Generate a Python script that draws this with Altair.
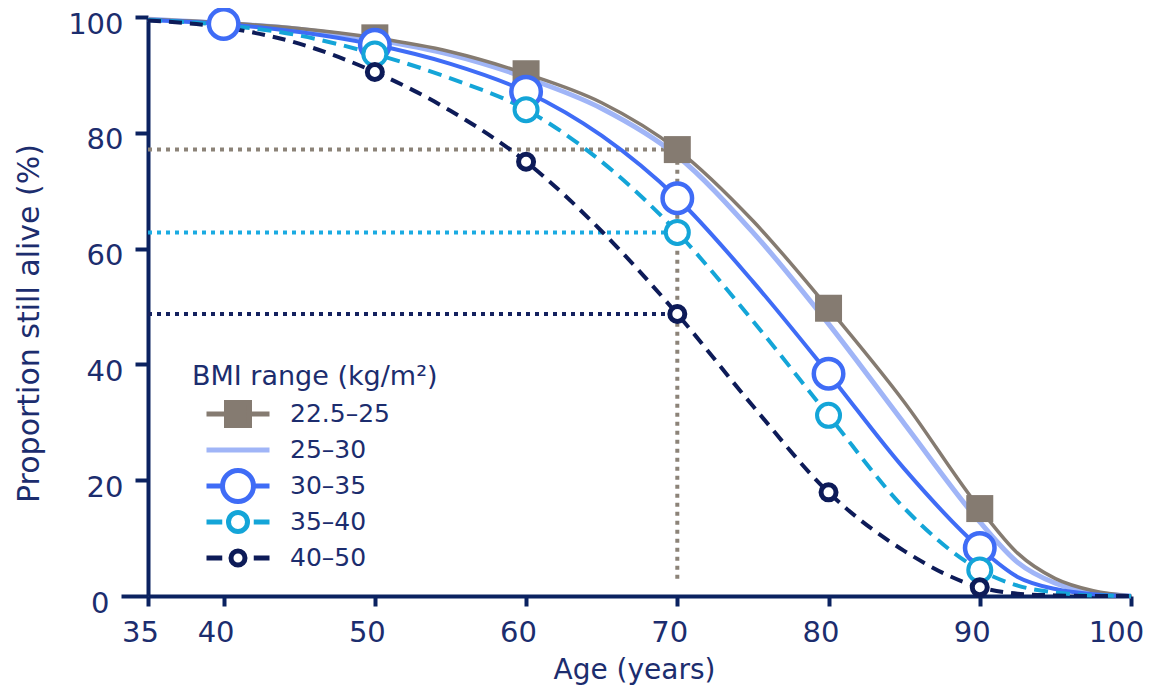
import altair as alt
import pandas as pd

# ---------------- data ----------------
AGES = [35, 40, 45, 50, 55, 60, 65, 70, 75, 80, 85, 90, 92.5, 95, 97.5, 100]
BMI_GROUPS = ["22.5–25", "25–30", "30–35", "35–40", "40–50"]

ALIVE_22_25 = [99.6, 99.0, 98.0, 96.4, 94.0, 90.2, 85.2, 77.1, 64.8, 49.7, 33.5, 15.1, 7.4, 3.0, 0.9, 0.0]
ALIVE_25_30 = [99.6, 98.9, 97.9, 96.1, 93.5, 89.5, 84.2, 76.0, 62.8, 47.0, 29.8, 12.8, 5.8, 2.2, 0.6, 0.0]
ALIVE_30_35 = [99.5, 98.8, 97.4, 95.2, 91.9, 87.1, 79.5, 68.7, 54.3, 38.4, 22.0, 8.3, 3.3, 1.2, 0.3, 0.0]
ALIVE_35_40 = [99.5, 98.6, 96.8, 93.6, 89.4, 84.0, 75.0, 62.8, 47.5, 31.2, 15.2, 4.5, 1.8, 0.6, 0.1, 0.0]
ALIVE_40_50 = [99.4, 98.2, 95.4, 90.5, 83.8, 75.0, 63.0, 48.7, 32.8, 17.9, 7.8, 1.5, 0.4, 0.1, 0.0, 0.0]

MARKER_AGES = [50, 60, 70, 80, 90]
MARKER_AGES_30_35 = [40, 50, 60, 70, 80, 90]

X_TICKS = [35, 40, 50, 60, 70, 80, 90, 100]
Y_TICKS = [0, 20, 40, 60, 80, 100]

REF_AGE = 70
REF_GROUPS = ["22.5–25", "35–40", "40–50"]
VLINE_BOTTOM = 3

SERIES = {
    "22.5–25": ALIVE_22_25,
    "25–30": ALIVE_25_30,
    "30–35": ALIVE_30_35,
    "35–40": ALIVE_35_40,
    "40–50": ALIVE_40_50,
}
MARKERS = {
    "22.5–25": MARKER_AGES,
    "25–30": [],
    "30–35": MARKER_AGES_30_35,
    "35–40": MARKER_AGES,
    "40–50": MARKER_AGES,
}

rows = []
for g in BMI_GROUPS:
    for a, v in zip(AGES, SERIES[g]):
        rows.append({"age": a, "alive": v, "bmi": g, "marker": a in MARKERS[g]})
df = pd.DataFrame(rows)

ref_rows = []
for g in REF_GROUPS:
    ref_rows.append({"bmi": g, "x0": AGES[0], "x1": REF_AGE,
                     "y": SERIES[g][AGES.index(REF_AGE)]})
ref_df = pd.DataFrame(ref_rows)
vref_df = pd.DataFrame([{"x": REF_AGE, "y0": VLINE_BOTTOM,
                         "y1": SERIES["22.5–25"][AGES.index(REF_AGE)]}])

# ---------------- styles ----------------
GRAY = "#857b71"
LIGHT = "#a0b5f7"
BLUE = "#3f6cf6"
CYAN = "#14a5d8"
NAVY = "#0d1b58"
AXIS = "#0b2260"
TEXT = "#1c2d6e"
FONT = "DejaVu Sans"
COLORS = [GRAY, LIGHT, BLUE, CYAN, NAVY]
REF_COLORS = {"22.5–25": "#8c8378", "35–40": "#1aabe2", "40–50": "#14215e"}

XSCALE = alt.Scale(domain=[35, 100], nice=False, zero=False)
YSCALE = alt.Scale(domain=[0, 100], nice=False)

X = alt.X("age:Q", title="Age (years)", scale=XSCALE,
          axis=alt.Axis(values=X_TICKS, grid=False, labelFlush=False,
                        domainColor=AXIS, domainWidth=4, tickColor=AXIS,
                        tickWidth=4, tickSize=10, labelPadding=12,
                        labelOffset={"condition": {"test": "datum.value == 100", "value": -15},
                                     "value": -8},
                        titleX=486, titleY=60,
                        labelFontSize=29, titleFontSize=28,
                        labelColor=TEXT, titleColor=TEXT, labelFont=FONT,
                        titleFont=FONT, titleFontWeight="normal"))
Y = alt.Y("alive:Q", title="Proportion still alive (%)", scale=YSCALE,
          axis=alt.Axis(values=Y_TICKS, grid=False, domainColor=AXIS,
                        domainWidth=4, tickColor=AXIS, tickWidth=4,
                        tickSize={"condition": {"test": "datum.value == 0", "value": 27},
                                  "value": 13},
                        labelPadding=12, labelOffset=7,
                        titleX=-104, titleY=306,
                        labelFontSize=29, titleFontSize=30, labelColor=TEXT,
                        titleColor=TEXT, labelFont=FONT, titleFont=FONT,
                        titleFontWeight="normal"))

base = alt.Chart(df)


def href(g):
    return alt.Chart(ref_df).transform_filter(alt.datum.bmi == g).mark_rule(
        strokeWidth=4, strokeDash=[4, 5], color=REF_COLORS[g]
    ).encode(x=alt.X("x0:Q", scale=XSCALE), x2="x1:Q", y=alt.Y("y:Q", scale=YSCALE))


vref = alt.Chart(vref_df).mark_rule(strokeWidth=4, strokeDash=[4, 5],
                                    color=REF_COLORS["22.5–25"]).encode(
    x=alt.X("x:Q", scale=XSCALE), y=alt.Y("y0:Q", scale=YSCALE), y2="y1:Q")


def line(g, color, width, dash=None):
    kw = dict(color=color, strokeWidth=width, interpolate="monotone")
    if dash:
        kw["strokeDash"] = dash
    return base.transform_filter(alt.datum.bmi == g).mark_line(**kw).encode(x=X, y=Y)


lines = [
    line("25–30", LIGHT, 5),
    line("22.5–25", GRAY, 3.5),
    line("30–35", BLUE, 4),
    line("35–40", CYAN, 4, [14, 8]),
    line("40–50", NAVY, 4, [13, 8]),
]


def marks(g, **kw):
    return base.transform_filter(
        (alt.datum.bmi == g) & (alt.datum.marker == True)
    ).mark_point(opacity=1, **kw).encode(x=X, y=Y)


points = [
    marks("22.5–25", shape="square", filled=True, fill=GRAY, strokeWidth=0, size=729),
    marks("30–35", shape="circle", filled=True, fill="white", stroke=BLUE, strokeWidth=4.5, size=870),
    marks("35–40", shape="circle", filled=True, fill="white", stroke=CYAN, strokeWidth=4, size=530),
    marks("40–50", shape="circle", filled=True, fill="white", stroke=NAVY, strokeWidth=5, size=225),
]


# legend symbols (line stubs + marker) as custom symbol paths, unit = 10.5 px
def circle_path(r):
    k = round(0.5523 * r, 3)
    return (f"M{r},0C{r},{k},{k},{r},0,{r}C{-k},{r},{-r},{k},{-r},0"
            f"C{-r},{-k},{-k},{-r},0,{-r}C{k},{-r},{r},{-k},{r},0Z")


PATHS = [
    "M-3,0H-1.1M1.1,0H3M-1.095,-1.095H1.095V1.095H-1.095Z",
    "M-3,0H3",
    "M-3,0H-1.5M1.5,0H3" + circle_path(1.476),
    "M-3,0H-1.5M1.5,0H3" + circle_path(0.905),
    "M-3,0H-1.5M1.5,0H3" + circle_path(0.667),
]
FILLS = [GRAY, "white", "white", "white", "white"]
LEG_SIZE = 441

leg = alt.Legend(title="BMI range (kg/m²)", orient="none", legendX=44,
                 legendY=347, symbolSize=LEG_SIZE, symbolStrokeWidth=5,
                 symbolOpacity=1, symbolOffset=33, labelOffset=39,
                 clipHeight=36, rowPadding=-4.5, titlePadding=5, padding=0,
                 labelFontSize=25, titleFontSize=27, labelColor=TEXT,
                 titleColor=TEXT, labelFont=FONT, titleFont=FONT,
                 titleFontWeight="normal", labelLimit=300, titleLimit=400)

legend_layer = base.mark_point(opacity=0, strokeWidth=5, size=LEG_SIZE,
                               strokeJoin="round").encode(
    x=X, y=Y,
    color=alt.Color("bmi:N", scale=alt.Scale(domain=BMI_GROUPS, range=COLORS), legend=leg),
    fill=alt.Fill("bmi:N", scale=alt.Scale(domain=BMI_GROUPS, range=FILLS), legend=leg),
    shape=alt.Shape("bmi:N", scale=alt.Scale(domain=BMI_GROUPS, range=PATHS), legend=leg),
)

chart = alt.layer(
    href("22.5–25"), href("35–40"), href("40–50"), vref,
    *lines, *points, legend_layer
).properties(
    width=983, height=579,
    autosize=alt.AutoSizeParams(type="none"),
    padding={"left": 140, "top": 9, "right": 12, "bottom": 92},
    background="white",
).configure_view(stroke=None)

chart.save("out.html", embed_options={"renderer": "svg", "actions": False})
